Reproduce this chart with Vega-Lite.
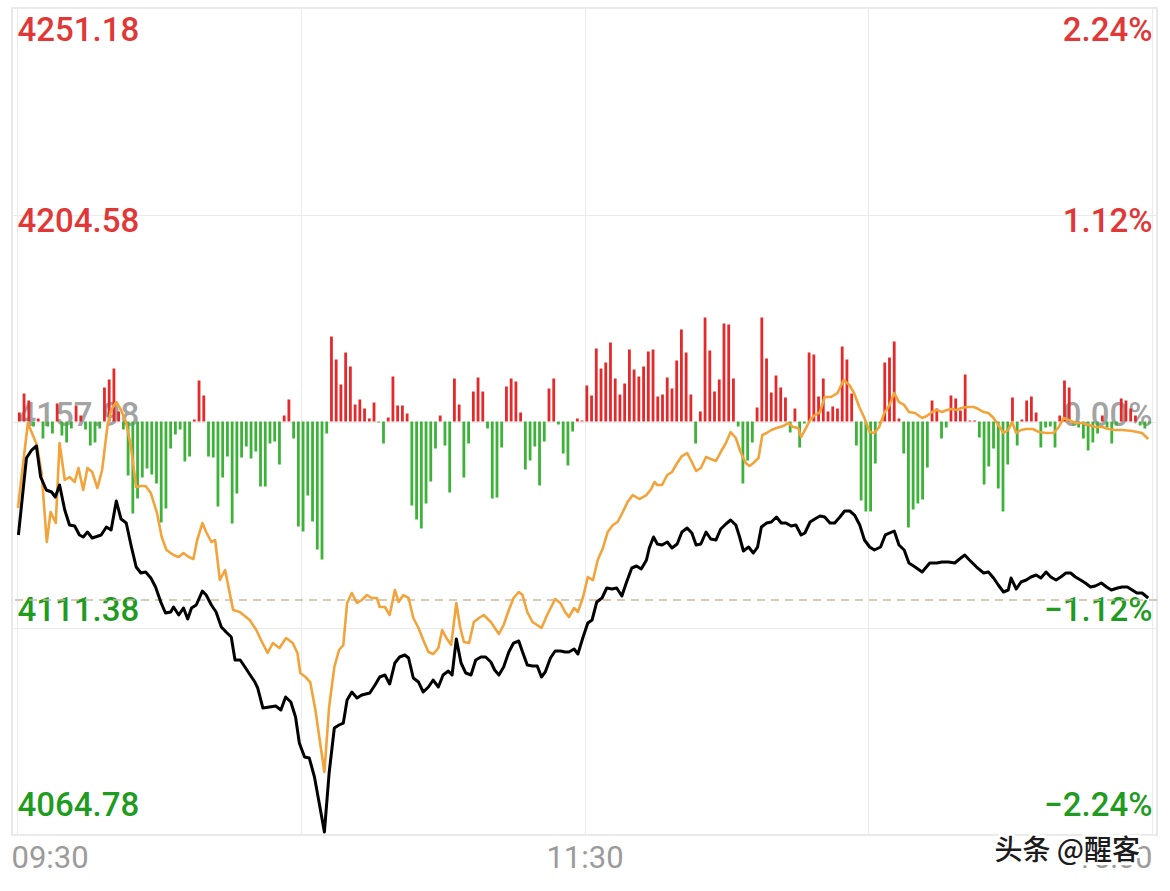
{
  "$schema": "https://vega.github.io/schema/vega-lite/v6.json",
  "width": 1145,
  "height": 827,
  "autosize": {"type": "none"},
  "padding": {"left": 12, "top": 8, "right": 13, "bottom": 56},
  "background": "white",
  "config": {
    "view": {"stroke": "#e2e2e2", "strokeWidth": 1.5},
    "axis": {"labelFont": "Roboto"}
  },
  "datasets": {
    "bars": [
      {"minute":1,"value":9},{"minute":2,"value":28},{"minute":3,"value":21},{"minute":4,"value":-5},{"minute":5,"value":3},{"minute":6,"value":-17},{"minute":7,"value":-5},{"minute":8,"value":-12},{"minute":9,"value":18},{"minute":10,"value":-14},
      {"minute":11,"value":-21},{"minute":12,"value":-7},{"minute":13,"value":16},{"minute":14,"value":6},{"minute":15,"value":-8},{"minute":16,"value":-24},{"minute":17,"value":-21},{"minute":18,"value":-7},{"minute":19,"value":34},{"minute":20,"value":42},
      {"minute":21,"value":53},{"minute":22,"value":10},{"minute":23,"value":-8},{"minute":24,"value":-54},{"minute":25,"value":-92},{"minute":26,"value":-77},{"minute":27,"value":-56},{"minute":28,"value":-47},{"minute":29,"value":-53},{"minute":30,"value":-62},
      {"minute":31,"value":-101},{"minute":32,"value":-87},{"minute":33,"value":-27},{"minute":34,"value":-13},{"minute":35,"value":-8},{"minute":36,"value":-40},{"minute":37,"value":-35},{"minute":38,"value":2},{"minute":39,"value":41},{"minute":40,"value":26},
      {"minute":41,"value":-35},{"minute":42,"value":-36},{"minute":43,"value":-85},{"minute":44,"value":-56},{"minute":45,"value":-35},{"minute":46,"value":-102},{"minute":47,"value":-72},{"minute":48,"value":-36},{"minute":49,"value":-25},{"minute":50,"value":-37},
      {"minute":51,"value":-30},{"minute":52,"value":-65},{"minute":53,"value":-65},{"minute":54,"value":-22},{"minute":55,"value":-20},{"minute":56,"value":-43},{"minute":57,"value":6},{"minute":58,"value":22},{"minute":59,"value":-17},{"minute":60,"value":-105},
      {"minute":61,"value":-110},{"minute":62,"value":-74},{"minute":63,"value":-100},{"minute":64,"value":-128},{"minute":65,"value":-138},{"minute":66,"value":-12},{"minute":67,"value":85},{"minute":68,"value":62},{"minute":69,"value":37},{"minute":70,"value":69},
      {"minute":71,"value":55},{"minute":72,"value":17},{"minute":73,"value":22},{"minute":74,"value":13},{"minute":75,"value":3},{"minute":76,"value":19},{"minute":77,"value":-1},{"minute":78,"value":-22},{"minute":79,"value":4},{"minute":80,"value":45},
      {"minute":81,"value":16},{"minute":82,"value":16},{"minute":83,"value":8},{"minute":84,"value":-84},{"minute":85,"value":-98},{"minute":86,"value":-107},{"minute":87,"value":-82},{"minute":88,"value":-60},{"minute":89,"value":-27},{"minute":90,"value":6},
      {"minute":91,"value":-24},{"minute":92,"value":-71},{"minute":93,"value":43},{"minute":94,"value":17},{"minute":95,"value":-56},{"minute":96,"value":-22},{"minute":97,"value":30},{"minute":98,"value":44},{"minute":99,"value":30},{"minute":100,"value":-7},
      {"minute":101,"value":-77},{"minute":102,"value":-76},{"minute":103,"value":-26},{"minute":104,"value":35},{"minute":105,"value":43},{"minute":106,"value":40},{"minute":107,"value":9},{"minute":108,"value":-48},{"minute":109,"value":-39},{"minute":110,"value":-25},
      {"minute":111,"value":-64},{"minute":112,"value":-20},{"minute":113,"value":33},{"minute":114,"value":43},{"minute":115,"value":-3},{"minute":116,"value":-32},{"minute":117,"value":-44},{"minute":118,"value":-10},{"minute":119,"value":3},{"minute":120,"value":1},
      {"minute":121,"value":36},{"minute":122,"value":26},{"minute":123,"value":73},{"minute":124,"value":53},{"minute":125,"value":59},{"minute":126,"value":79},{"minute":127,"value":43},{"minute":128,"value":27},{"minute":129,"value":38},{"minute":130,"value":72},
      {"minute":131,"value":52},{"minute":132,"value":45},{"minute":133,"value":55},{"minute":134,"value":70},{"minute":135,"value":72},{"minute":136,"value":25},{"minute":137,"value":27},{"minute":138,"value":44},{"minute":139,"value":33},{"minute":140,"value":61},
      {"minute":141,"value":92},{"minute":142,"value":69},{"minute":143,"value":27},{"minute":144,"value":-22},{"minute":145,"value":10},{"minute":146,"value":104},{"minute":147,"value":71},{"minute":148,"value":30},{"minute":149,"value":42},{"minute":150,"value":98},
      {"minute":151,"value":97},{"minute":152,"value":43},{"minute":153,"value":-5},{"minute":154,"value":-62},{"minute":155,"value":-39},{"minute":156,"value":-21},{"minute":157,"value":14},{"minute":158,"value":104},{"minute":159,"value":63},{"minute":160,"value":29},
      {"minute":161,"value":46},{"minute":162,"value":34},{"minute":163,"value":24},{"minute":164,"value":-11},{"minute":165,"value":13},{"minute":166,"value":-26},{"minute":167,"value":-2},{"minute":168,"value":69},{"minute":169,"value":67},{"minute":170,"value":25},
      {"minute":171,"value":43},{"minute":172,"value":10},{"minute":173,"value":15},{"minute":174,"value":13},{"minute":175,"value":75},{"minute":176,"value":62},{"minute":177,"value":28},{"minute":178,"value":-24},{"minute":179,"value":-79},{"minute":180,"value":-90},
      {"minute":181,"value":-90},{"minute":182,"value":-42},{"minute":183,"value":-2},{"minute":184,"value":59},{"minute":185,"value":64},{"minute":186,"value":80},{"minute":187,"value":3},{"minute":188,"value":-32},{"minute":189,"value":-106},{"minute":190,"value":-88},
      {"minute":191,"value":-82},{"minute":192,"value":-78},{"minute":193,"value":-46},{"minute":194,"value":21},{"minute":195,"value":13},{"minute":196,"value":-17},{"minute":197,"value":-6},{"minute":198,"value":26},{"minute":199,"value":23},{"minute":200,"value":11},
      {"minute":201,"value":47},{"minute":202,"value":1},{"minute":203,"value":1},{"minute":204,"value":-16},{"minute":205,"value":-63},{"minute":206,"value":-45},{"minute":207,"value":-27},{"minute":208,"value":-67},{"minute":209,"value":-90},{"minute":210,"value":-43},
      {"minute":211,"value":24},{"minute":212,"value":-24},{"minute":213,"value":2},{"minute":214,"value":21},{"minute":215,"value":25},{"minute":216,"value":9},{"minute":217,"value":-26},{"minute":218,"value":-6},{"minute":219,"value":-5},{"minute":220,"value":-26},
      {"minute":221,"value":6},{"minute":222,"value":41},{"minute":223,"value":34},{"minute":224,"value":-4},{"minute":225,"value":-6},{"minute":226,"value":-17},{"minute":227,"value":-29},{"minute":228,"value":-21},{"minute":229,"value":-12},{"minute":230,"value":6},
      {"minute":231,"value":-6},{"minute":232,"value":-22},{"minute":233,"value":-4},{"minute":234,"value":23},{"minute":235,"value":21},{"minute":236,"value":13},{"minute":237,"value":6},{"minute":238,"value":-4},{"minute":239,"value":-7},{"minute":240,"value":-2}
    ],
    "black": [
      {"minute":0.3,"price":4132.40},{"minute":2.0,"price":4149.75},{"minute":3.1,"price":4151.55},{"minute":4.1,"price":4152.46},{"minute":5.0,"price":4145.47},{"minute":6.2,"price":4142.54},{"minute":7.3,"price":4142.09},{"minute":8.1,"price":4140.96},{"minute":9.0,"price":4143.67},{"minute":10.1,"price":4138.03},
      {"minute":11.1,"price":4134.65},{"minute":12.2,"price":4134.42},{"minute":13.2,"price":4132.40},{"minute":14.0,"price":4131.95},{"minute":14.9,"price":4133.07},{"minute":15.9,"price":4131.72},{"minute":17.8,"price":4132.40},{"minute":18.9,"price":4134.20},{"minute":19.9,"price":4133.52},{"minute":21.0,"price":4140.06},
      {"minute":22.0,"price":4136.00},{"minute":23.1,"price":4135.10},{"minute":24.1,"price":4130.14},{"minute":25.2,"price":4125.18},{"minute":26.2,"price":4123.83},{"minute":27.2,"price":4124.06},{"minute":28.3,"price":4122.70},{"minute":29.3,"price":4120.68},{"minute":30.4,"price":4117.30},{"minute":31.4,"price":4114.82},
      {"minute":32.5,"price":4115.04},{"minute":33.1,"price":4116.17},{"minute":34.2,"price":4114.37},{"minute":35.2,"price":4115.94},{"minute":36.1,"price":4113.46},{"minute":36.9,"price":4115.94},{"minute":37.9,"price":4116.62},{"minute":39.2,"price":4119.77},{"minute":40.0,"price":4118.87},{"minute":41.1,"price":4116.62},
      {"minute":42.1,"price":4115.04},{"minute":43.2,"price":4111.66},{"minute":44.2,"price":4110.53},{"minute":45.3,"price":4109.41},{"minute":46.1,"price":4104.22},{"minute":47.2,"price":4104.22},{"minute":48.2,"price":4102.64},{"minute":49.3,"price":4100.84},{"minute":50.3,"price":4099.26},{"minute":50.9,"price":4097.91},
      {"minute":52.0,"price":4093.40},{"minute":53.4,"price":4093.63},{"minute":54.7,"price":4093.85},{"minute":55.8,"price":4092.95},{"minute":56.8,"price":4095.88},{"minute":57.9,"price":4094.76},{"minute":58.9,"price":4091.38},{"minute":59.7,"price":4085.52},{"minute":60.8,"price":4082.36},{"minute":61.8,"price":4082.13},
      {"minute":62.9,"price":4077.85},{"minute":63.9,"price":4071.99},{"minute":65.0,"price":4065.46},{"minute":66.0,"price":4078.75},{"minute":67.1,"price":4088.90},{"minute":68.1,"price":4089.57},{"minute":69.0,"price":4090.02},{"minute":69.8,"price":4095.21},{"minute":70.8,"price":4097.01},{"minute":71.9,"price":4095.66},
      {"minute":72.9,"price":4096.33},{"minute":74.6,"price":4096.78},{"minute":75.7,"price":4098.59},{"minute":76.7,"price":4100.39},{"minute":77.8,"price":4100.84},{"minute":78.8,"price":4098.81},{"minute":79.9,"price":4103.55},{"minute":80.9,"price":4104.90},{"minute":82.0,"price":4105.35},{"minute":82.8,"price":4104.67},
      {"minute":83.8,"price":4100.17},{"minute":84.9,"price":4099.26},{"minute":85.9,"price":4097.01},{"minute":87.0,"price":4098.14},{"minute":88.0,"price":4099.71},{"minute":89.1,"price":4098.14},{"minute":90.1,"price":4100.84},{"minute":91.2,"price":4101.74},{"minute":92.0,"price":4100.84},{"minute":92.9,"price":4108.96},
      {"minute":93.9,"price":4103.55},{"minute":94.9,"price":4101.29},{"minute":96.0,"price":4100.84},{"minute":97.0,"price":4104.22},{"minute":98.1,"price":4104.90},{"minute":99.1,"price":4104.90},{"minute":100.2,"price":4103.77},{"minute":101.0,"price":4101.97},{"minute":101.9,"price":4100.84},{"minute":102.9,"price":4102.64},
      {"minute":104.0,"price":4106.03},{"minute":105.0,"price":4108.05},{"minute":106.1,"price":4108.51},{"minute":106.9,"price":4106.03},{"minute":107.9,"price":4103.10},{"minute":109.0,"price":4102.87},{"minute":110.0,"price":4102.87},{"minute":110.9,"price":4100.39},{"minute":111.7,"price":4101.52},{"minute":112.8,"price":4104.67},
      {"minute":113.8,"price":4106.25},{"minute":114.9,"price":4106.25},{"minute":115.9,"price":4106.03},{"minute":116.7,"price":4106.03},{"minute":117.8,"price":4106.70},{"minute":118.6,"price":4105.58},{"minute":119.7,"price":4109.41},{"minute":120.7,"price":4112.56},{"minute":121.6,"price":4113.24},{"minute":122.6,"price":4117.30},
      {"minute":123.7,"price":4118.20},{"minute":124.7,"price":4120.45},{"minute":125.8,"price":4120.23},{"minute":126.8,"price":4120.45},{"minute":127.9,"price":4118.65},{"minute":128.9,"price":4121.80},{"minute":130.0,"price":4124.96},{"minute":131.0,"price":4125.41},{"minute":132.0,"price":4124.73},{"minute":133.1,"price":4126.76},
      {"minute":133.7,"price":4129.47},{"minute":134.6,"price":4131.95},{"minute":135.4,"price":4130.37},{"minute":136.4,"price":4130.14},{"minute":137.5,"price":4130.82},{"minute":138.5,"price":4129.47},{"minute":139.6,"price":4130.37},{"minute":140.6,"price":4133.07},{"minute":141.7,"price":4133.97},{"minute":142.7,"price":4132.85},
      {"minute":143.6,"price":4130.14},{"minute":144.6,"price":4130.37},{"minute":145.7,"price":4133.07},{"minute":146.7,"price":4131.49},{"minute":147.8,"price":4131.27},{"minute":148.8,"price":4133.75},{"minute":149.9,"price":4134.88},{"minute":150.9,"price":4135.78},{"minute":152.0,"price":4134.65},{"minute":152.8,"price":4131.95},
      {"minute":153.6,"price":4128.79},{"minute":154.7,"price":4129.69},{"minute":155.7,"price":4128.34},{"minute":156.6,"price":4129.69},{"minute":157.4,"price":4134.20},{"minute":158.5,"price":4135.10},{"minute":159.5,"price":4135.33},{"minute":160.6,"price":4136.45},{"minute":161.6,"price":4135.10},{"minute":162.6,"price":4135.10},
      {"minute":163.7,"price":4134.42},{"minute":164.7,"price":4134.65},{"minute":165.8,"price":4132.40},{"minute":166.6,"price":4132.85},{"minute":167.7,"price":4135.33},{"minute":168.7,"price":4136.00},{"minute":169.8,"price":4136.68},{"minute":170.8,"price":4136.45},{"minute":171.9,"price":4135.10},{"minute":172.9,"price":4135.10},
      {"minute":174.0,"price":4136.45},{"minute":175.0,"price":4137.81},{"minute":176.1,"price":4137.81},{"minute":177.1,"price":4136.90},{"minute":178.2,"price":4134.65},{"minute":179.2,"price":4131.27},{"minute":180.3,"price":4129.69},{"minute":181.3,"price":4129.02},{"minute":182.6,"price":4129.69},{"minute":183.6,"price":4132.40},
      {"minute":185.5,"price":4133.30},{"minute":186.5,"price":4130.14},{"minute":187.6,"price":4129.02},{"minute":188.6,"price":4126.09},{"minute":189.9,"price":4125.18},{"minute":191.4,"price":4124.06},{"minute":193.0,"price":4126.09},{"minute":194.5,"price":4126.09},{"minute":195.6,"price":4126.31},{"minute":197.0,"price":4126.31},
      {"minute":198.3,"price":4126.09},{"minute":199.3,"price":4126.99},{"minute":200.4,"price":4127.89},{"minute":201.4,"price":4126.76},{"minute":202.9,"price":4125.18},{"minute":204.4,"price":4123.83},{"minute":205.4,"price":4124.06},{"minute":206.5,"price":4122.70},{"minute":207.5,"price":4121.13},{"minute":208.6,"price":4119.55},
      {"minute":209.6,"price":4120.00},{"minute":210.2,"price":4122.70},{"minute":211.3,"price":4120.23},{"minute":212.3,"price":4121.80},{"minute":213.4,"price":4122.25},{"minute":214.4,"price":4122.93},{"minute":215.5,"price":4123.38},{"minute":216.5,"price":4122.70},{"minute":217.6,"price":4124.06},{"minute":218.6,"price":4122.93},
      {"minute":219.7,"price":4122.25},{"minute":220.7,"price":4122.93},{"minute":221.8,"price":4123.83},{"minute":222.8,"price":4123.83},{"minute":223.8,"price":4122.93},{"minute":224.9,"price":4122.25},{"minute":225.9,"price":4121.58},{"minute":227.0,"price":4120.68},{"minute":228.0,"price":4120.90},{"minute":229.3,"price":4121.58},
      {"minute":230.4,"price":4120.68},{"minute":231.4,"price":4120.00},{"minute":232.7,"price":4120.45},{"minute":233.7,"price":4120.68},{"minute":234.8,"price":4120.68},{"minute":235.8,"price":4120.00},{"minute":236.8,"price":4119.32},{"minute":237.9,"price":4119.32},{"minute":239.2,"price":4118.20}
    ],
    "orange": [
      {"minute":0.2,"price":4138.48},{"minute":2.3,"price":4157.64},{"minute":4.2,"price":4152.68},{"minute":5.2,"price":4146.37},{"minute":6.3,"price":4130.82},{"minute":7.1,"price":4137.58},{"minute":8.2,"price":4135.10},{"minute":9.0,"price":4153.13},{"minute":10.1,"price":4144.79},{"minute":11.1,"price":4145.47},
      {"minute":12.2,"price":4144.34},{"minute":13.0,"price":4147.50},{"minute":14.0,"price":4142.54},{"minute":14.9,"price":4147.50},{"minute":15.9,"price":4146.60},{"minute":17.0,"price":4142.99},{"minute":18.0,"price":4147.05},{"minute":19.1,"price":4156.74},{"minute":19.9,"price":4160.57},{"minute":21.0,"price":4162.37},
      {"minute":22.0,"price":4160.57},{"minute":23.1,"price":4157.64},{"minute":24.1,"price":4152.23},{"minute":25.2,"price":4143.22},{"minute":26.2,"price":4143.44},{"minute":27.2,"price":4143.44},{"minute":28.3,"price":4141.86},{"minute":29.6,"price":4137.35},{"minute":30.6,"price":4131.95},{"minute":31.6,"price":4129.02},
      {"minute":33.1,"price":4127.89},{"minute":34.2,"price":4127.44},{"minute":35.2,"price":4128.34},{"minute":36.3,"price":4127.44},{"minute":37.3,"price":4126.99},{"minute":38.1,"price":4131.27},{"minute":39.2,"price":4135.10},{"minute":40.0,"price":4133.07},{"minute":41.1,"price":4130.82},{"minute":41.9,"price":4131.27},
      {"minute":42.9,"price":4122.25},{"minute":44.0,"price":4124.51},{"minute":45.7,"price":4115.49},{"minute":47.1,"price":4115.04},{"minute":49.2,"price":4113.24},{"minute":50.6,"price":4110.99},{"minute":51.6,"price":4108.73},{"minute":53.0,"price":4105.80},{"minute":54.1,"price":4108.05},{"minute":55.5,"price":4106.93},
      {"minute":56.9,"price":4109.18},{"minute":58.3,"price":4108.05},{"minute":59.3,"price":4105.80},{"minute":59.9,"price":4101.29},{"minute":61.0,"price":4100.39},{"minute":62.0,"price":4099.26},{"minute":63.1,"price":4092.95},{"minute":64.1,"price":4085.52},{"minute":65.0,"price":4078.98},{"minute":66.0,"price":4093.63},
      {"minute":67.1,"price":4102.64},{"minute":68.1,"price":4106.48},{"minute":69.0,"price":4107.60},{"minute":69.8,"price":4117.07},{"minute":70.8,"price":4119.32},{"minute":71.9,"price":4117.07},{"minute":72.9,"price":4117.75},{"minute":74.0,"price":4118.87},{"minute":75.0,"price":4118.20},{"minute":76.1,"price":4118.20},
      {"minute":76.7,"price":4116.17},{"minute":77.8,"price":4116.17},{"minute":78.8,"price":4114.37},{"minute":79.9,"price":4120.00},{"minute":80.7,"price":4117.30},{"minute":81.7,"price":4118.87},{"minute":82.8,"price":4118.20},{"minute":83.8,"price":4113.69},{"minute":84.9,"price":4111.44},{"minute":85.9,"price":4108.73},
      {"minute":87.0,"price":4106.03},{"minute":88.0,"price":4105.57},{"minute":89.1,"price":4106.93},{"minute":89.9,"price":4110.98},{"minute":90.8,"price":4109.18},{"minute":91.8,"price":4107.60},{"minute":92.9,"price":4117.07},{"minute":93.7,"price":4111.66},{"minute":94.5,"price":4108.28},{"minute":95.6,"price":4108.05},
      {"minute":96.6,"price":4112.79},{"minute":97.7,"price":4113.69},{"minute":98.7,"price":4114.37},{"minute":100.2,"price":4112.79},{"minute":101.9,"price":4110.08},{"minute":102.9,"price":4112.11},{"minute":104.0,"price":4115.49},{"minute":105.0,"price":4118.20},{"minute":106.1,"price":4119.55},{"minute":106.9,"price":4118.87},
      {"minute":107.9,"price":4115.04},{"minute":109.0,"price":4112.79},{"minute":110.0,"price":4112.11},{"minute":110.9,"price":4111.44},{"minute":112.1,"price":4114.37},{"minute":113.8,"price":4117.97},{"minute":114.9,"price":4117.07},{"minute":115.9,"price":4115.04},{"minute":116.7,"price":4113.91},{"minute":117.8,"price":4115.94},
      {"minute":118.6,"price":4115.04},{"minute":119.7,"price":4118.42},{"minute":120.7,"price":4122.93},{"minute":121.8,"price":4122.25},{"minute":122.8,"price":4126.76},{"minute":123.9,"price":4129.47},{"minute":124.9,"price":4133.07},{"minute":126.0,"price":4134.65},{"minute":127.0,"price":4135.33},{"minute":128.1,"price":4137.58},
      {"minute":129.1,"price":4139.83},{"minute":130.2,"price":4141.41},{"minute":131.6,"price":4140.51},{"minute":133.1,"price":4141.41},{"minute":134.1,"price":4142.76},{"minute":134.8,"price":4144.34},{"minute":135.4,"price":4143.67},{"minute":136.4,"price":4143.67},{"minute":137.5,"price":4145.92},{"minute":138.5,"price":4146.60},
      {"minute":139.6,"price":4148.62},{"minute":140.6,"price":4150.20},{"minute":141.7,"price":4150.88},{"minute":142.7,"price":4148.85},{"minute":143.6,"price":4146.82},{"minute":144.6,"price":4147.50},{"minute":145.7,"price":4149.98},{"minute":146.7,"price":4149.53},{"minute":147.8,"price":4149.08},{"minute":148.8,"price":4151.10},
      {"minute":149.9,"price":4153.13},{"minute":150.9,"price":4155.61},{"minute":152.0,"price":4154.26},{"minute":153.0,"price":4151.10},{"minute":154.1,"price":4148.62},{"minute":154.9,"price":4147.95},{"minute":155.7,"price":4148.62},{"minute":156.8,"price":4149.75},{"minute":157.6,"price":4154.94},{"minute":158.5,"price":4155.39},
      {"minute":159.5,"price":4156.06},{"minute":160.6,"price":4156.51},{"minute":162.0,"price":4156.96},{"minute":163.1,"price":4157.64},{"minute":164.1,"price":4156.74},{"minute":165.2,"price":4156.51},{"minute":165.8,"price":4154.48},{"minute":166.6,"price":4156.06},{"minute":167.7,"price":4158.32},{"minute":168.7,"price":4159.44},
      {"minute":169.8,"price":4160.12},{"minute":170.8,"price":4163.50},{"minute":172.1,"price":4163.50},{"minute":173.5,"price":4164.40},{"minute":174.8,"price":4167.33},{"minute":176.0,"price":4166.20},{"minute":177.0,"price":4164.40},{"minute":178.1,"price":4161.25},{"minute":179.1,"price":4158.99},{"minute":180.3,"price":4155.61},
      {"minute":181.3,"price":4155.39},{"minute":182.3,"price":4156.74},{"minute":183.4,"price":4159.89},{"minute":184.5,"price":4161.70},{"minute":185.5,"price":4164.40},{"minute":186.5,"price":4162.37},{"minute":187.6,"price":4161.70},{"minute":188.6,"price":4160.12},{"minute":189.9,"price":4159.89},{"minute":191.4,"price":4158.77},
      {"minute":192.4,"price":4159.22},{"minute":193.5,"price":4160.12},{"minute":194.5,"price":4160.57},{"minute":195.6,"price":4160.12},{"minute":196.6,"price":4160.57},{"minute":197.7,"price":4160.79},{"minute":198.7,"price":4160.57},{"minute":199.7,"price":4161.02},{"minute":200.8,"price":4161.25},{"minute":202.3,"price":4161.25},
      {"minute":203.3,"price":4160.79},{"minute":204.4,"price":4160.12},{"minute":205.4,"price":4159.89},{"minute":206.5,"price":4158.77},{"minute":207.5,"price":4157.19},{"minute":208.6,"price":4155.39},{"minute":209.6,"price":4156.06},{"minute":210.4,"price":4157.87},{"minute":211.3,"price":4155.39},{"minute":212.3,"price":4156.06},
      {"minute":213.4,"price":4156.29},{"minute":214.8,"price":4156.29},{"minute":216.1,"price":4155.61},{"minute":217.6,"price":4155.39},{"minute":219.2,"price":4155.39},{"minute":220.3,"price":4156.74},{"minute":221.3,"price":4158.77},{"minute":222.4,"price":4158.32},{"minute":223.8,"price":4157.64},{"minute":225.3,"price":4157.64},
      {"minute":226.6,"price":4157.19},{"minute":228.0,"price":4156.74},{"minute":229.5,"price":4156.74},{"minute":230.8,"price":4156.29},{"minute":232.2,"price":4156.06},{"minute":233.7,"price":4156.06},{"minute":235.8,"price":4155.84},{"minute":237.9,"price":4155.39},{"minute":239.2,"price":4154.03}
    ],
    "ref": [{"price": 4117.75}],
    "mark": [{"minute": 240, "price": 4060.95, "text": "头条 @醒客"}]
  },
  "layer": [
    {
      "data": {"name": "bars"},
      "mark": {"type": "bar", "width": 2.8, "xOffset": -2.4},
      "encoding": {
        "x": {
          "field": "minute", "type": "quantitative",
          "scale": {"domain": [0, 240], "nice": false, "zero": false},
          "axis": {
            "title": null, "values": [0, 60, 120, 180, 240],
            "labelExpr": "datum.value == 0 ? '09:30' : datum.value == 120 ? '11:30' : datum.value == 240 ? '15:00' : ''",
            "grid": true, "gridColor": "#ebebeb", "gridWidth": 1,
            "domain": false, "ticks": false, "tickSize": 0,
            "labelPadding": 8, "labelFontSize": 31, "labelColor": "#9b9b9b",
            "labelFlush": false, "labelOverlap": false,
            "labelAlign": {"condition": [{"test": "datum.value < 1", "value": "left"}, {"test": "datum.value > 239", "value": "right"}], "value": "center"},
            "labelOffset": {"condition": {"test": "datum.value < 1", "value": -6}, "value": 0}
          }
        },
        "y": {
          "field": "value", "type": "quantitative", "stack": null,
          "scale": {"domain": [-413.5, 413.5], "nice": false, "zero": false},
          "axis": null
        },
        "y2": {"datum": 0},
        "color": {"condition": {"test": "datum.value > 0", "value": "#e5292b"}, "value": "#3cb239"}
      }
    },
    {
      "data": {"name": "ref"},
      "mark": {"type": "rule", "color": "#cdb8a2", "strokeDash": [8, 6], "strokeWidth": 1.3},
      "encoding": {
        "y": {
          "field": "price", "type": "quantitative",
          "scale": {"domain": [4064.78, 4251.18], "nice": false, "zero": false},
          "axis": {
            "orient": "right", "title": null,
            "values": [4064.78, 4111.38, 4157.98, 4204.58, 4251.18],
            "labelExpr": "format((datum.value - 4157.98) / 4157.98 * 100, '.2f') + '%'",
            "grid": false, "domain": false, "ticks": false, "tickSize": 0,
            "labelAlign": "right", "labelPadding": -5, "labelBaseline": "middle",
            "labelFontSize": 33, "labelFontWeight": 500, "labelOverlap": false, "labelBound": false, "labelFlush": false,
            "labelColor": {"condition": [{"test": "datum.value > 4158", "value": "#e23737"}, {"test": "datum.value < 4157", "value": "#1f9b1f"}], "value": "#a3a3a3"},
            "labelOffset": {"condition": [{"test": "datum.value > 4250", "value": 22}, {"test": "datum.value > 4200", "value": 7}, {"test": "datum.value > 4150", "value": -6}, {"test": "datum.value > 4100", "value": -18}], "value": -30}
          }
        }
      }
    },
    {
      "data": {"name": "orange"},
      "mark": {"type": "line", "color": "#f2a33a", "strokeWidth": 2.6, "strokeJoin": "round"},
      "encoding": {
        "x": {"field": "minute", "type": "quantitative"},
        "y": {
          "field": "price", "type": "quantitative",
          "scale": {"domain": [4064.78, 4251.18], "nice": false, "zero": false},
          "axis": null
        }
      }
    },
    {
      "data": {"name": "black"},
      "mark": {"type": "line", "color": "#000000", "strokeWidth": 3, "strokeJoin": "round"},
      "encoding": {
        "x": {"field": "minute", "type": "quantitative"},
        "y": {
          "field": "price", "type": "quantitative",
          "scale": {"domain": [4064.78, 4251.18], "nice": false, "zero": false},
          "axis": {
            "orient": "left", "title": null,
            "values": [4064.78, 4111.38, 4157.98, 4204.58, 4251.18],
            "format": ".2f",
            "grid": true, "gridColor": "#ebebeb", "gridWidth": 1,
            "domain": false, "ticks": false, "tickSize": 0,
            "labelAlign": "left", "labelPadding": -5, "labelBaseline": "middle",
            "labelFontSize": 33, "labelFontWeight": 500, "labelOverlap": false, "labelBound": false, "labelFlush": false,
            "labelColor": {"condition": [{"test": "datum.value > 4158", "value": "#e23737"}, {"test": "datum.value < 4157", "value": "#1f9b1f"}], "value": "#a3a3a3"},
            "labelOffset": {"condition": [{"test": "datum.value > 4250", "value": 22}, {"test": "datum.value > 4200", "value": 7}, {"test": "datum.value > 4150", "value": -6}, {"test": "datum.value > 4100", "value": -18}], "value": -30}
          }
        }
      }
    },
    {
      "data": {"name": "mark"},
      "mark": {"type": "text", "align": "right", "baseline": "middle", "dx": -12, "font": "Noto Sans CJK SC", "fontSize": 28, "fontWeight": 500, "color": "white", "stroke": "white", "strokeWidth": 6},
      "encoding": {
        "x": {"field": "minute", "type": "quantitative"},
        "y": {
          "field": "price", "type": "quantitative",
          "scale": {"domain": [4064.78, 4251.18], "nice": false, "zero": false},
          "axis": null
        },
        "text": {"field": "text"}
      }
    },
    {
      "data": {"name": "mark"},
      "mark": {"type": "text", "align": "right", "baseline": "middle", "dx": -12, "font": "Noto Sans CJK SC", "fontSize": 28, "fontWeight": 500, "color": "#1c1c1c"},
      "encoding": {
        "x": {"field": "minute", "type": "quantitative"},
        "y": {
          "field": "price", "type": "quantitative",
          "scale": {"domain": [4064.78, 4251.18], "nice": false, "zero": false},
          "axis": null
        },
        "text": {"field": "text"}
      }
    }
  ],
  "resolve": {"scale": {"y": "independent"}, "axis": {"y": "independent"}}
}
